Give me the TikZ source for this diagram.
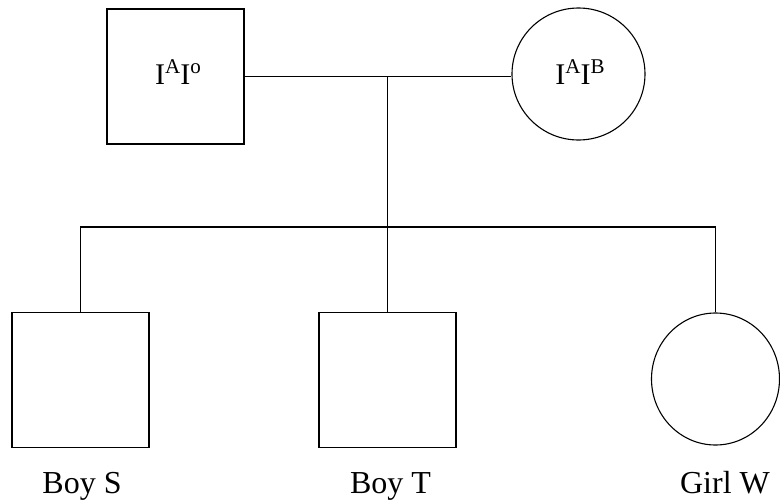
\documentclass[tikz,border=0pt]{standalone}
\usepackage{fontspec}
\setmainfont{Liberation Serif}
\usetikzlibrary{shapes.geometric}
\newcommand\sps[1]{\raisebox{0.36em}{\fontsize{21}{24}\selectfont #1}}
\begin{document}
\begin{tikzpicture}[x=1pt,y=-1pt,
  line width=1.1pt,
  sq/.style={draw, rectangle, inner sep=0pt, minimum width=137pt, minimum height=135pt},
  rnd/.style={draw, ellipse, inner sep=0pt},
  gt/.style={font=\fontsize{30}{34}\selectfont, inner sep=0pt, anchor=base},
  lbl/.style={font=\fontsize{32}{36}\selectfont, inner sep=0pt, anchor=base}]
\useasboundingbox (0,0) rectangle (780,501);
% parents
\node[sq] (F) at (175.5,76.5) {};
\node[rnd, minimum width=133pt, minimum height=132pt] (M) at (578.5,74) {};
\node[gt] (GF) at (178,84) {I\sps{A}I\sps{o}};
\node[gt] (GM) at (580,84) {I\sps{A}I\sps{B}};
% children
\node[sq] (S) at (80.5,380) {};
\node[sq] (T) at (387.5,380) {};
\node[rnd, minimum width=128pt, minimum height=132pt] (W) at (715.5,379) {};
% labels
\node[lbl] (LS) at (82,493) {Boy S};
\node[lbl] (LT) at (390.5,493) {Boy T};
\node[lbl] (LW) at (725,493) {Girl W};
% connectors
\coordinate (mid) at (387.5,76.5);
\coordinate (sib) at (387.5,227);
\draw (F.east) -- (F.east -| M.west);
\draw (mid) -- (T.north);
\draw (S.north) -- (S.north |- sib) -- (W.north |- sib) -- (W.north);
\end{tikzpicture}
\end{document}
